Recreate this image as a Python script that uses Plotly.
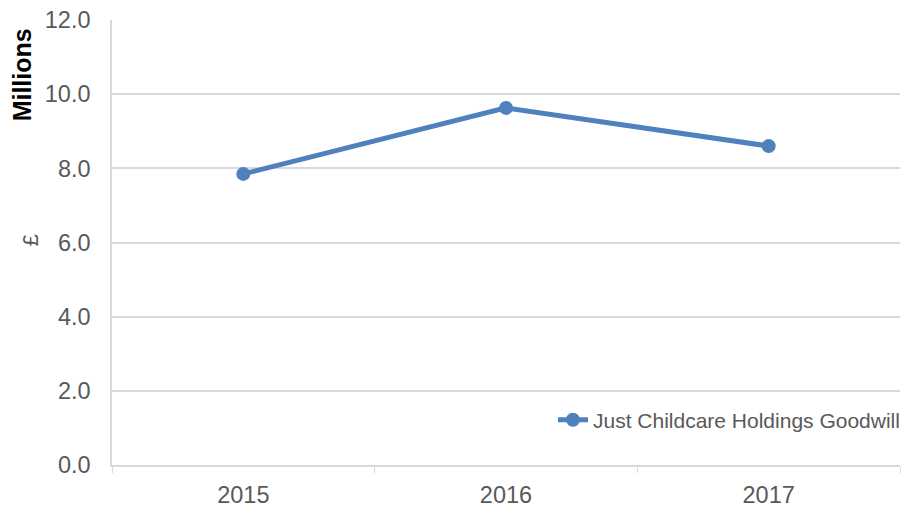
import plotly.graph_objects as go

years = ["2015", "2016", "2017"]
goodwill = [7.85, 9.63, 8.60]
series_name = "Just Childcare Holdings Goodwill"
y_ticks = [0, 2, 4, 6, 8, 10, 12]
y_tick_labels = ["0.0", "2.0", "4.0", "6.0", "8.0", "10.0", "12.0"]

blue = "#4F81BD"
grid = "#D9D9D9"
txt = "#595959"
font = "Liberation Sans, Arial, sans-serif"

fig = go.Figure()
fig.add_trace(go.Scatter(
    x=years, y=goodwill, name=series_name, mode="lines+markers",
    line=dict(color=blue, width=5),
    marker=dict(color=blue, size=14),
))

# page body has an 8px margin, so the figure is 8px smaller than the window
fig.update_layout(
    width=901, height=499,
    margin=dict(l=104, r=9, t=12, b=42, autoexpand=False),
    paper_bgcolor="white", plot_bgcolor="white",
    font=dict(family=font, color=txt, size=21),
    showlegend=True,
    legend=dict(x=0.5596, y=0.101, xanchor="left", yanchor="middle",
                bgcolor="rgba(0,0,0,0)", font=dict(size=21, color=txt)),
    xaxis=dict(
        type="category", range=[-0.5, 2.5], automargin=False,
        showline=True, linecolor=grid, linewidth=1.5,
        ticks="outside", tickson="boundaries", ticklen=6, tickcolor=grid,
        showgrid=False, tickfont=dict(size=23.5, color=txt), zeroline=False,
        ticklabelstandoff=8,
    ),
    yaxis=dict(
        range=[0, 12], tickvals=y_ticks, ticktext=y_tick_labels, automargin=False,
        showline=True, linecolor=grid, linewidth=1.5,
        showgrid=True, gridcolor=grid, gridwidth=1.5,
        ticks="", tickfont=dict(size=23.5, color=txt), zeroline=False,
        ticklabelstandoff=15, ticklabeloverflow="allow",
    ),
    annotations=[
        dict(text="<b>Millions</b>", textangle=-90, xref="paper", yref="paper",
             x=-0.114, y=0.985, xanchor="center", yanchor="top", showarrow=False,
             font=dict(size=25, color="black", family=font)),
        dict(text="£", textangle=-90, xref="paper", yref="paper",
             x=-0.104, y=0.505, xanchor="center", yanchor="middle", showarrow=False,
             font=dict(size=22, color=txt, family=font)),
    ],
)

fig.write_html("out.html")
